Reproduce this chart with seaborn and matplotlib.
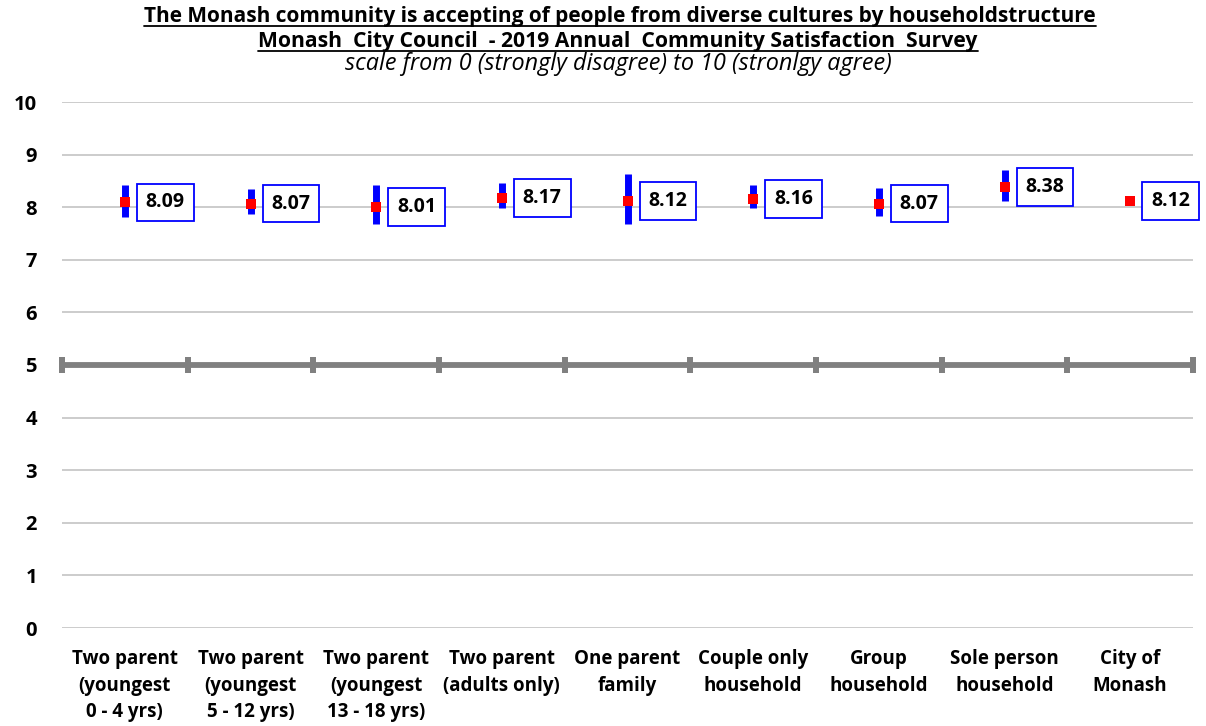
import matplotlib
matplotlib.use("Agg")
import matplotlib.pyplot as plt
import numpy as np
import pandas as pd
import seaborn as sns
from matplotlib.lines import Line2D

# household groups and survey results (mean score with 95% confidence interval)
categories = [
    "Two parent\n(youngest\n0 - 4 yrs)",
    "Two parent\n(youngest\n5 - 12 yrs)",
    "Two parent\n(youngest\n13 - 18 yrs)",
    "Two parent\n(adults only)",
    "One parent\nfamily",
    "Couple only\nhousehold",
    "Group\nhousehold",
    "Sole person\nhousehold",
    "City of\nMonash",
]
means = [8.09, 8.07, 8.01, 8.17, 8.12, 8.16, 8.07, 8.38, 8.12]
ci_low = [7.82, 7.87, 7.68, 7.98, 7.68, 7.98, 7.83, 8.12, 8.06]
ci_high = [8.42, 8.35, 8.42, 8.46, 8.63, 8.42, 8.37, 8.71, 8.20]
y_ticks = list(range(0, 11))
ref_value = 5

title_1 = "The Monash community is accepting of people from diverse cultures by householdstructure"
title_2 = "Monash  City Council  - 2019 Annual  Community Satisfaction  Survey"
subtitle = "scale from 0 (strongly disagree) to 10 (stronlgy agree)"

df = pd.DataFrame({"group": categories, "mean": means, "low": ci_low, "high": ci_high})

sns.set_theme(style="white")
plt.rcParams["font.family"] = ["Open Sans", "DejaVu Sans"]

W, H = 1206, 726
fig = plt.figure(figsize=(W / 100, H / 100), dpi=100)
ax = fig.add_axes([62 / W, 1 - 628 / H, (1193 - 62) / W, (628 - 102) / H])

# confidence interval bars
ax.vlines(np.arange(len(df)), df["low"], df["high"], color="#0000ff", lw=5, zorder=3)

sns.pointplot(
    data=df, x="group", y="mean", order=categories, errorbar=None,
    marker="s", linestyle="none", color="#ff0000", markersize=7,
    markeredgewidth=0, ax=ax,
)
for ln in ax.lines:
    ln.set_zorder(4)

# value labels
for i, m in enumerate(df["mean"]):
    ax.annotate(
        f"{m:.2f}", xy=(i, m), xytext=(21, 0), textcoords="offset pixels",
        ha="left", va="center", fontsize=14, fontweight="bold", color="black",
        bbox=dict(boxstyle="square,pad=0.46", fc="white", ec="#0000ff", lw=1.3),
        zorder=5,
    )

# horizontal axis crossing at the midpoint of the scale
ax.axhline(ref_value, color="#808080", lw=4.2, zorder=2)
bounds = np.arange(len(df) + 1) - 0.5
ax.plot(bounds, [ref_value] * len(bounds), ls="none", marker="|",
        ms=11.5, mew=4.3, color="#808080", zorder=2, clip_on=False)

ax.set_xlim(-0.5, len(df) - 0.5)
ax.set_ylim(0, 10)
ax.set_yticks(y_ticks)
ax.grid(axis="y", color="#c8c8c8", lw=1.3)
ax.grid(axis="x", visible=False)
for s in ax.spines.values():
    s.set_visible(False)
ax.set_xlabel("")
ax.set_ylabel("")
ax.tick_params(axis="y", length=0, pad=18, labelsize=14.5)
ax.tick_params(axis="x", length=0, pad=15, labelsize=13.5)
for lbl in ax.get_yticklabels() + ax.get_xticklabels():
    lbl.set_fontweight("bold")
    lbl.set_color("black")
for lbl in ax.get_xticklabels():
    lbl.set_linespacing(1.45)

# titles: (text, centre x px, baseline y px, target width px, weight, style, underline)
fig.canvas.draw()
renderer = fig.canvas.get_renderer()
title_specs = [
    (title_1, 620, 22, 947, "bold", "normal", True),
    (title_2, 618, 47, 715, "bold", "normal", True),
    (subtitle, 618, 70, 545, "normal", "italic", False),
]
for text, cx, base, width, weight, style, under in title_specs:
    t = fig.text(cx / W, 1 - base / H, text, ha="center", va="baseline",
                 fontsize=13, fontweight=weight, fontstyle=style, color="black")
    w = t.get_window_extent(renderer).width
    t.set_fontsize(13 * width / w)
    if under:
        bb = t.get_window_extent(renderer)
        y = H - base - 4
        fig.add_artist(Line2D([bb.x0, bb.x1], [y, y], transform=None,
                              color="black", lw=1.3))

fig.savefig("out.png", dpi=100)
